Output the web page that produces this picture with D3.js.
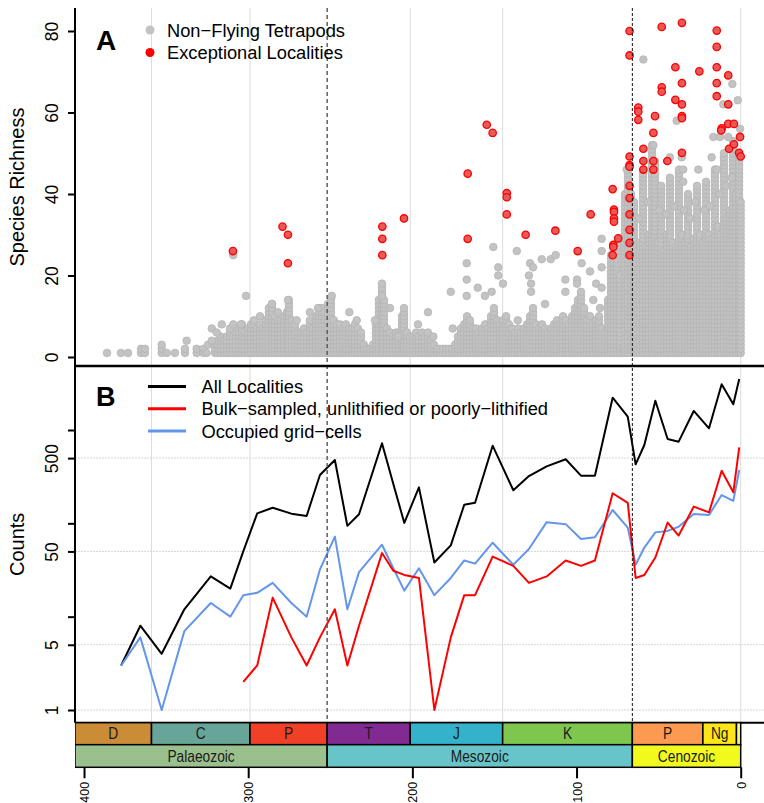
<!DOCTYPE html>
<html><head><meta charset="utf-8">
<script src="https://cdn.jsdelivr.net/npm/d3@7"></script>
<style>body{margin:0;background:#fff}svg{display:block;font-family:"Liberation Sans",Arial,Helvetica,sans-serif}</style>
</head><body>
<svg id="chart" width="764" height="803"></svg>
<script>
// ---------------- DATA ----------------
// Panel A: dense stacks of localities [age Ma, highest richness in the stack]
const grayColumns = [
[320.2,3],[318.4,4],[316.6,5],[314.8,4],[312.9,5],[311.1,6],[309.3,5],[307.5,7],[305.6,6],[303.8,8],[302.0,6],[300.1,7],
[298.3,8],[296.5,9],[294.7,7],[292.8,8],[291.0,7],[289.2,9],[287.4,12],[285.5,13],[283.7,10],[281.9,9],[280.1,9],[278.2,10],
[276.4,11],[275.2,14],[273.4,9],[271.5,8],[269.7,6],[267.9,6],[266.1,7],[264.2,6],[262.4,9],[260.6,7],[258.7,10],[256.9,12],
[255.1,12],[253.3,11],[251.4,13],[249.6,14],[247.8,9],[246.0,8],[244.1,8],[242.3,7],[240.5,8],[238.6,7],[236.8,7],[235.0,8],
[233.2,7],[231.3,6],[229.5,3],[227.7,2],[225.8,2],[224.0,3],[222.2,8],[220.4,14],[218.5,17],[217.3,14],[215.5,7],[213.7,6],
[211.8,5],[210.0,6],[208.2,6],[206.3,10],[205.1,12],[203.3,6],[201.5,5],[199.6,5],[197.8,6],[196.0,5],[194.1,6],[192.3,5],
[190.5,6],[188.7,4],[186.8,3],[185.0,2],[183.2,2],[181.3,2],[179.5,2],[177.7,2],[175.8,2],[174.0,3],[172.2,5],[170.4,7],
[168.5,8],[166.7,10],[164.9,9],[163.0,7],[161.2,7],[159.4,6],[157.6,7],[155.7,8],[153.9,7],[152.1,10],[150.3,12],[148.4,9],
[146.6,8],[144.8,9],[142.9,10],[141.1,8],[139.3,7],[137.5,6],[135.6,7],[133.8,6],[132.0,7],[130.1,8],[128.3,10],[126.5,12],
[124.7,8],[122.8,7],[121.0,8],[119.2,7],[117.4,6],[115.5,7],[113.7,8],[111.9,9],[110.0,8],[108.2,10],[106.4,9],[104.6,8],
[102.7,10],[100.9,12],[99.1,14],[97.3,16],[95.4,12],[93.6,9],[91.8,10],[89.9,8],[88.1,9],[86.3,10],[84.5,7],[82.6,6],
[80.8,14],[79.0,25],[77.2,27],[75.3,28],[73.5,20],[71.7,2],[70.5,40],[68.7,46],[66.8,40],
[65.0,38],[63.2,26],[61.3,28],[59.5,45],[57.7,27],[55.9,30],[54.0,52],[52.2,48],[50.4,28],[48.5,42],[46.7,26],[44.9,30],
[43.1,44],[41.2,28],[39.4,27],[37.6,46],[35.8,30],[33.9,28],[32.1,40],[30.3,27],[28.4,29],[26.6,42],[24.8,30],[23.0,28],
[21.1,43],[19.3,30],[17.5,29],[15.7,46],[13.8,32],[12.0,30],[10.2,50],[8.3,34],[6.5,36],[4.7,53],[2.9,40],[1.0,50],[0.0,38]
];
// Panel A: isolated non-flying tetrapod localities [age Ma, species richness]
const grayPoints = [
[386.0,1],[377.5,1],[373.2,1],[365.3,1],[365.3,2],[362.9,1],[362.9,2],[352.7,1],[352.7,2],[352.7,3],[349.6,1],[344.6,1],
[338.5,1],[338.5,2],[337.5,4],[331.4,1],[331.4,2],[327.3,1],[327.3,2],[325.3,1],[324.5,3],[322.2,4],[322.2,7],[319.2,6],
[316.1,8],[311.1,7],[309.1,8],[309.1,25],[304.4,8],[301.3,15],[292.8,10],[285.5,13],[281.9,11],[275.8,14],[270.5,9],
[262.4,11],[257.5,12],[249.1,15],[238.4,11],[233.9,9],[222.8,9],[218.5,18],[218.5,15],[213.6,12],[208.9,5],[196.6,8],
[190.5,11],[187.2,5],[175.4,7],[176.6,16],[166.9,23],[166.9,19],[166.9,15],[160.2,17],[155.8,15],[151.7,16],[150.7,27],
[147.7,22],[147.7,20],[144.8,18],[136.4,26],[135.8,9],[128.3,23],[129.0,20],[126.5,22],[127.7,18],[127.7,16],[121.2,24],
[115.7,24],[112.7,25],[119.2,13],[106.8,19],[106.8,16],[99.7,19],[99.7,18],[96.9,23],[91.8,21],[88.1,18],[84.7,29],
[84.7,26],[84.7,22],[84.7,17],[89.8,14],[85.7,12],[69.4,46],[59.3,73],[39.0,58],[53.2,52],[43.1,49],[35.9,49],[35.0,46],
[35.0,43],[25.8,46],[17.7,49],[16.7,54],[14.6,46],[12.6,54],[7.6,54],[5.1,67],[1.8,63],[0.4,56],[10.6,62],
[62.0,34],[56.5,38],[49.5,36],[45.5,35],[40.5,37],[34.5,36],[31.0,34],[27.5,38],[22.0,36],[18.5,37],[13.0,40],[9.0,42],[5.5,44]
];
// Panel A: exceptional localities [age Ma, species richness]
const redPoints = [
[309.3,26],[279.1,32],[275.8,30],[275.8,23],[218.3,32],[218.3,29],[218.3,25],[205.1,34],[166.3,45],[166.3,29],
[154.7,57],[151.1,55],[142.5,40.2],[142.5,39.2],[142.5,35],[131.0,30],[112.9,31],[99.3,26],[91.4,35],
[78.0,41.2],[77.2,36.2],[77.2,35.6],[77.2,34],[77.2,33.2],[74.6,29.1],[77.6,27.5],[77.6,27],[78.0,25],
[67.7,80],[67.7,74],[67.7,49.2],[67.7,47.1],[67.7,46.7],[67.7,42],[67.7,39],[67.7,35],[67.7,31.2],[67.7,28],[67.7,25],
[62.4,61.2],[62.4,60.2],[62.4,58.2],[59.3,51.1],[59.3,48.1],[59.3,46],[53.2,55],[53.2,48.1],[53.2,46],[52.2,59.1],
[48.1,81],[48.1,66.2],[48.1,65.1],[44.7,48.1],[39.8,71.1],[39.8,63.1],
[35.8,82],[35.8,67.2],[35.8,62],[35.8,59.1],[35.8,58.6],[35.8,50.1],[25.2,70.1],
[14.6,80.1],[14.6,76.1],[14.6,71.1],[14.6,67.2],[14.6,64],[11.6,56.1],[11.9,55.6],
[7.6,69.1],[7.6,62],[7.6,57.2],[7.1,51.1],[4.1,57.2],[4.1,52.2],[0.4,54],[1.0,50.1],[0.0,49.2]
];
// Panel B: time bins and counts
const binAges = [377.4,365.7,352.7,338.9,322.8,310.9,303.0,294.5,285.1,273.7,264.4,256.3,247.2,239.6,232.5,218.5,211.6,204.9,
196.0,186.6,176.6,168.4,161.8,151.1,138.5,129.0,118.2,106.6,97.3,88.8,78.0,68.8,64.0,58.7,52.0,44.5,37.8,28.6,19.3,11.6,4.5,0.9];
const allLocalities = [3,8,4,12,27,20,50,128,147,127,120,330,477,94,125,721,264,101,243,38,58,158,166,679,226,321,408,486,324,324,
2220,1390,429,691,2060,801,750,1600,1043,3090,1885,3520];
const bulkSampled = [null,null,null,null,null,null,2,3,16,6,3,6,12,3,8,48,31,28,26,1,6,17,17,44,35,23,27,40,35,40,
210,166,26,28,43,102,74,151,131,366,215,653];
const gridCells = [3,6,1,7,14,10,17,18,23,14,10,32,72,12,30,59,33,19,33,17,26,40,37,62,36,53,103,98,68,71,
139,90,36,55,80,83,92,126,123,201,174,373];
// Geological timescale
const periodNames = ["D","C","P","T","J","K","P","Ng",""];
const periodStart = [419.2,358.9,298.9,251.9,201.3,145.0,66.0,23.03,2.58];
const periodEnd   = [358.9,298.9,251.9,201.3,145.0,66.0,23.03,2.58,0];
const periodColors = ["#CB8C37","#67A599","#F04028","#812B92","#34B2C9","#7FC64E","#FD9A52","#FFE619","#F9F97F"];
const eraNames = ["Palaeozoic","Mesozoic","Cenozoic"];
const eraStart = [419.2,251.9,66.0];
const eraEnd   = [251.9,66.0,0];
const eraColors = ["#99C08D","#67C5CA","#F2F91D"];
// Axes ticks / guides
const xTicks = [400,300,200,100,0];
const gridAges = [358.9,298.9,201.3,145.0,0];
const boundaryAges = [251.9,66.0];
const yTicksA = [0,20,40,60,80];
const yTicksB = [1,5,10,50,100,500,1000];
const yLabelsB = [1,5,50,500];
const yGridB = [1,5,50,500];

// ---------------- LAYOUT ----------------
const L = 75, R = 764, topA = 8, botA = 366, botB = 722.7, perBot = 744.7, eraBot = 767.3;
const svg = d3.select("#chart");
const x = d3.scaleLinear().domain([405.5, -14.19]).range([L, R]);
const yA = d3.scaleLinear().domain([0, 80]).range([357, 31]);
const yB = d3.scaleLog().domain([1, 1000]).range([710, 430]);

const defs = svg.append("defs");
defs.append("clipPath").attr("id","clipA").append("rect").attr("x",L).attr("y",topA).attr("width",R-L).attr("height",botA-topA);
defs.append("clipPath").attr("id","clipB").append("rect").attr("x",L).attr("y",botA).attr("width",R-L).attr("height",botB-botA);
defs.append("clipPath").attr("id","clipT").append("rect").attr("x",L).attr("y",botB-2).attr("width",R-L).attr("height",60);

// grids
const gA = svg.append("g").attr("clip-path","url(#clipA)");
const gB = svg.append("g").attr("clip-path","url(#clipB)");
[ [gA, topA, botA], [gB, botA, botB] ].forEach(([g, y0, y1]) => {
  g.selectAll("line.vg").data(gridAges).join("line").attr("class","vg")
    .attr("x1", d => x(d)).attr("x2", d => x(d)).attr("y1", y0).attr("y2", y1)
    .attr("stroke","#dcdcdc").attr("stroke-width",1);
});
gB.selectAll("line.hg").data(yGridB).join("line").attr("class","hg")
  .attr("x1",L).attr("x2",R).attr("y1",d=>yB(d)).attr("y2",d=>yB(d))
  .attr("stroke","#d6d6d6").attr("stroke-width",1).attr("stroke-dasharray","2,1");

// Panel A points
const stacked = [];
grayColumns.forEach(([age, top]) => { for (let k = 1; k <= top; k++) stacked.push([age, k]); });
gA.append("g").selectAll("circle").data(stacked.concat(grayPoints)).join("circle")
  .attr("cx", d => x(d[0])).attr("cy", d => yA(d[1])).attr("r", 3.8)
  .attr("fill", "#c3c3c3").attr("stroke", "#b4b4b4").attr("stroke-width", 0.8);
gA.append("g").selectAll("circle").data(redPoints).join("circle")
  .attr("cx", d => x(d[0])).attr("cy", d => yA(d[1])).attr("r", 3.7)
  .attr("fill", "#e65a5a").attr("stroke", "#ff0000").attr("stroke-width", 1.3);

// boundary dashed lines (both panels)
svg.selectAll("line.bd").data(boundaryAges).join("line").attr("class","bd")
  .attr("x1", d => x(d)).attr("x2", d => x(d)).attr("y1", topA).attr("y2", botB)
  .attr("stroke", (d,i) => i === 0 ? "#555" : "#111")
  .attr("stroke-width", (d,i) => i === 0 ? 1.4 : 1)
  .attr("stroke-dasharray", (d,i) => i === 0 ? "4,3" : "3,2");

// Panel B lines
const series = [
  {vals: allLocalities, color: "#000000"},
  {vals: gridCells, color: "#6495ED"},
  {vals: bulkSampled, color: "#ff0000"}
];
const line = d3.line().defined(d => d[1] != null).x(d => x(d[0])).y(d => yB(d[1]));
series.forEach(s => {
  gB.append("path").datum(binAges.map((a,i) => [a, s.vals[i]]))
    .attr("d", line).attr("fill","none").attr("stroke", s.color).attr("stroke-width", 2)
    .attr("stroke-linejoin","round");
});

// axes lines
svg.append("line").attr("x1",L).attr("x2",L).attr("y1",topA).attr("y2",botB).attr("stroke","#000").attr("stroke-width",2);
svg.append("line").attr("x1",L).attr("x2",R).attr("y1",botA).attr("y2",botA).attr("stroke","#000").attr("stroke-width",2.5);
svg.append("line").attr("x1",L).attr("x2",R).attr("y1",botB).attr("y2",botB).attr("stroke","#000").attr("stroke-width",2);

// Y axes
const axA = svg.append("g").attr("transform", `translate(${L},0)`)
  .call(d3.axisLeft(yA).tickValues(yTicksA).tickSize(7).tickFormat(d3.format("d")));
const axB = svg.append("g").attr("transform", `translate(${L},0)`)
  .call(d3.axisLeft(yB).tickValues(yTicksB).tickSize(7).tickFormat(d => yLabelsB.includes(d) ? String(d) : ""));
[axA, axB].forEach(ax => {
  ax.select(".domain").remove();
  ax.selectAll(".tick line").attr("stroke","#000").attr("stroke-width",2);
  ax.selectAll(".tick text").attr("transform","rotate(-90)").attr("x",0).attr("y",-17.5).attr("dy",0)
    .attr("text-anchor","middle").attr("fill","#000").style("font-size","17.5px")
    .style("font-family",'"Liberation Sans",Arial,sans-serif');
});

// axis titles
svg.append("text").attr("transform",`translate(24,${(topA+botA)/2}) rotate(-90)`).attr("text-anchor","middle")
  .style("font-size","20px").text("Species Richness");
svg.append("text").attr("transform",`translate(24,${(botA+botB)/2}) rotate(-90)`).attr("text-anchor","middle")
  .style("font-size","20px").text("Counts");

// Panel letters
svg.append("text").attr("x",96).attr("y",50).style("font-size","28px").style("font-weight","bold").text("A");
svg.append("text").attr("x",96).attr("y",406).style("font-size","27px").style("font-weight","bold").text("B");

// Legend A
const legA = [["Non\u2212Flying Tetrapods","#c3c3c3"],["Exceptional Localities","#ff0000"]];
legA.forEach(([t,c],i) => {
  const yy = 30 + i*22.5;
  svg.append("circle").attr("cx",150).attr("cy",yy).attr("r",4.5).attr("fill",c);
  svg.append("text").attr("x",167).attr("y",yy+6.5).style("font-size","18.3px").text(t);
});
// Legend B
const legB = [["All Localities","#000"],["Bulk\u2212sampled, unlithified or poorly\u2212lithified","#ff0000"],["Occupied grid\u2212cells","#6495ED"]];
legB.forEach(([t,c],i) => {
  const yy = 386.5 + i*22.3;
  svg.append("line").attr("x1",148).attr("x2",186).attr("y1",yy).attr("y2",yy).attr("stroke",c).attr("stroke-width",3);
  svg.append("text").attr("x",201.5).attr("y",yy+6.5).style("font-size","18.3px").text(t);
});

// Timescale
const gT = svg.append("g").attr("clip-path","url(#clipT)");
const rows = [
  {names: periodNames, s: periodStart, e: periodEnd, c: periodColors, y0: botB, y1: perBot},
  {names: eraNames, s: eraStart, e: eraEnd, c: eraColors, y0: perBot, y1: eraBot}
];
rows.forEach(row => {
  row.names.forEach((n,i) => {
    const x0 = Math.max(x(row.s[i]), L), x1 = x(row.e[i]);
    gT.append("rect").attr("x",x0).attr("y",row.y0).attr("width",x1-x0).attr("height",row.y1-row.y0)
      .attr("fill",row.c[i]).attr("stroke","#000").attr("stroke-width",1.5);
    if (n) gT.append("text").attr("transform",`translate(${(x0+x1)/2},${(row.y0+row.y1)/2+5.5}) scale(0.86,1)`)
      .attr("text-anchor","middle").style("font-size","16px").attr("fill","#1a1a1a").text(n);
  });
});

// X axis
const axX = svg.append("g").attr("transform",`translate(0,${eraBot})`)
  .call(d3.axisBottom(x).tickValues(xTicks).tickSize(11).tickFormat(d3.format("d")));
axX.select(".domain").remove();
axX.selectAll(".tick line").attr("stroke","#000").attr("stroke-width",2);
axX.selectAll(".tick text").attr("transform","rotate(-90)").attr("x",-14.5).attr("y",4.5).attr("dy",0)
  .attr("text-anchor","end").attr("fill","#000").style("font-size","12.5px")
  .style("font-family",'"Liberation Sans",Arial,sans-serif');
</script>
</body></html>
